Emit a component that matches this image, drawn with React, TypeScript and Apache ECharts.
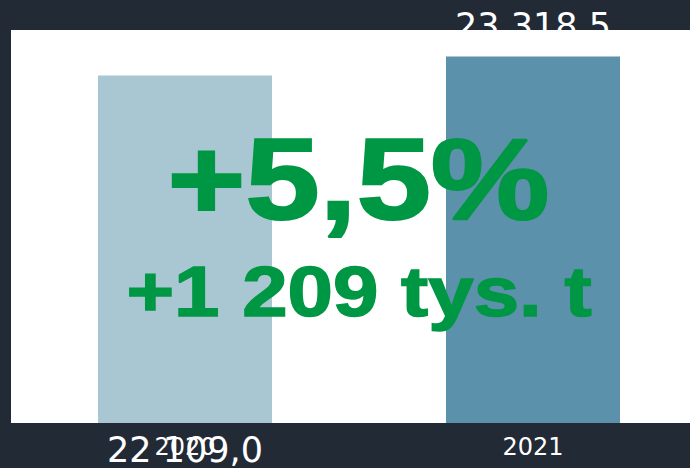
import React, { useEffect, useRef } from 'react';
import * as echarts from 'echarts';

const categories = ['2020', '2021'];
const values = [22109.0, 23318.5];
const valueLabels = ['22 109,0', '23 318,5'];
const barColors = ['#a9c6d3', '#5b91aa'];
const headline = '+5,5%';
const subline = '+1 209 tys. t';

export default function App() {
  const ref = useRef<HTMLDivElement>(null);
  useEffect(() => {
    const chart = echarts.init(ref.current!, null, { renderer: 'svg' });
    const labelPos = ['bottom', 'top'];
    const labelDist = [9, 13];
    chart.setOption({
      animation: false,
      backgroundColor: '#222a36',
      grid: {
        left: 11,
        top: 30,
        right: 0,
        bottom: 45,
        show: true,
        backgroundColor: '#ffffff',
        borderWidth: 0,
      },
      xAxis: {
        type: 'category',
        data: categories,
        axisLine: { show: false },
        axisTick: { show: false },
        axisLabel: { color: '#ffffff', fontSize: 24, margin: 12, fontFamily: 'DejaVu Sans' },
      },
      yAxis: { type: 'value', min: 0, max: 25000, show: false },
      series: [
        {
          type: 'bar',
          barWidth: 174,
          data: values.map((v, i) => ({
            value: v,
            itemStyle: { color: barColors[i] },
            label: {
              show: true,
              position: labelPos[i],
              distance: labelDist[i],
              color: '#ffffff',
              fontSize: 35,
              fontFamily: 'DejaVu Sans',
              formatter: () => valueLabels[i],
            },
          })),
        },
      ],
      graphic: [
        {
          type: 'text',
          x: 358.5,
          y: 179,
          scaleX: 1.16,
          z: 100,
          style: {
            text: headline,
            fontFamily: 'Liberation Sans',
            fontWeight: 'bold',
            fontSize: 115,
            fill: '#009744',
            stroke: '#009744',
            lineWidth: 2.2,
            align: 'center',
            verticalAlign: 'middle',
          },
        },
        {
          type: 'text',
          x: 359,
          y: 291,
          scaleX: 1.15,
          z: 100,
          style: {
            text: subline,
            fontFamily: 'Liberation Sans',
            fontWeight: 'bold',
            fontSize: 71,
            fill: '#009744',
            stroke: '#009744',
            lineWidth: 1.5,
            align: 'center',
            verticalAlign: 'middle',
          },
        },
      ],
    });
    return () => chart.dispose();
  }, []);
  return (
    <div
      ref={ref}
      style={{ position: 'fixed', left: 0, top: 0, width: 707, height: 468 }}
    />
  );
}
